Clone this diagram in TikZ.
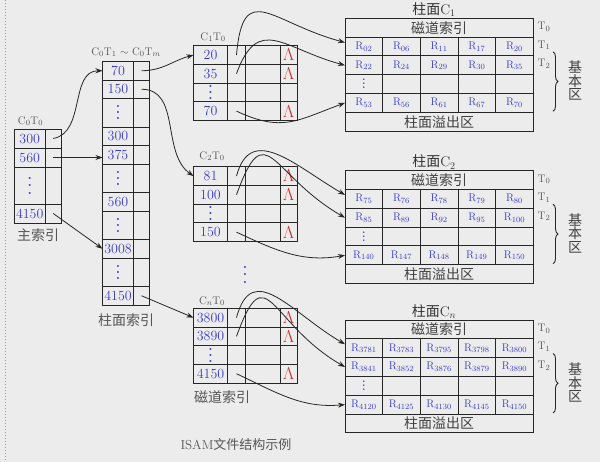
\documentclass[tikz,border=0pt]{standalone}
\usepackage{fontspec}
\usepackage{amsmath}
\usepackage{xcolor}
\usepackage{tikz}
\usetikzlibrary{arrows.meta,decorations.pathreplacing}
\newfontfamily\cjk{Noto Sans CJK SC}

\definecolor{bggray}{RGB}{236,236,236}
\definecolor{numblue}{RGB}{60,60,205}
\definecolor{lamred}{RGB}{210,35,35}
\definecolor{labgray}{RGB}{85,85,85}
\definecolor{dotgreen}{RGB}{110,180,110}

\newcommand{\vdt}[1][6]{\vbox{\bfseries\baselineskip#1pt\lineskiplimit0pt\hbox{.}\hbox{.}\hbox{.}}}

\begin{document}
\begin{tikzpicture}[x=1pt, y=-1pt,
  cell/.style={draw=black!85, line width=0.8pt, inner sep=0pt, outer sep=0pt, anchor=north west},
  num/.style={text=numblue, font=\fontsize{14}{16}\selectfont},
  rnum/.style={text=numblue, font=\fontsize{11}{13}\selectfont},
  lam/.style={text=lamred, font=\fontsize{17}{19}\selectfont},
  lab/.style={text=labgray, font=\fontsize{11}{13}\selectfont},
  zh/.style={text=labgray, font=\fontsize{14}{16}\selectfont\cjk},
  zhd/.style={text=black!75, font=\fontsize{14}{16}\selectfont\cjk},
  ttl/.style={text=black!80, font=\fontsize{14}{16}\selectfont},
  arr/.style={-{Stealth[length=7pt,width=5pt]}, line width=0.8pt, black!85}]

\fill[bggray] (0,0) rectangle (600,462);
\useasboundingbox (0,0) rectangle (600,462);
\draw[dotgreen, dotted, line width=1pt] (5,0) -- (5,462);

% main index
\node[lab] (milbl) at (30.5,121) {C$_0$T$_0$};
\node[cell, num, minimum width=30.5pt, minimum height=19pt] (m1) at (14.5,129) {300};
\node[cell, minimum width=16.5pt, minimum height=19pt] (mp1) at (45,129) {};
\node[cell, num, minimum width=30.5pt, minimum height=19pt] (m2) at (14.5,148) {560};
\node[cell, minimum width=16.5pt, minimum height=19pt] (mp2) at (45,148) {};
\node[cell, num, minimum width=30.5pt, minimum height=37pt] (m3) at (14.5,167) {\vdt[7.5]};
\node[cell, minimum width=16.5pt, minimum height=37pt] (mp3) at (45,167) {};
\node[cell, num, minimum width=30.5pt, minimum height=19pt] (m4) at (14.5,204) {4150};
\node[cell, minimum width=16.5pt, minimum height=19pt] (mp4) at (45,204) {};
\node[zh] (mizh) at (38,235) {主索引};

% cylinder index
\node[lab] (cilbl) at (126,52) {C$_0$T$_1$ $\sim$ C$_0$T$_m$};
\foreach \n/\yy/\hh/\tx in {1/61.5/18.5/70, 2/80/18.5/150, 3/98.5/28.5/\vdt, 4/127/18.5/300,
    5/145.5/18.5/375, 6/164/28.5/\vdt, 7/192.5/18.5/560, 8/211/28.5/\vdt,
    9/239.5/18.5/3008, 10/258/28.5/\vdt, 11/286.5/18.5/4150}
{
  \node[cell, num, minimum width=31pt, minimum height=\hh pt] (i\n) at (102.5,\yy) {\tx};
  \node[cell, minimum width=16pt, minimum height=\hh pt] (ip\n) at (133.5,\yy) {};
}
\node[zh] (cizh) at (126,320) {柱面索引};

% track index
\foreach \k/\ty/\va/\vb/\vd in {1/45.7/20/35/70, 2/166.7/81/100/150, 3/308.3/3800/3890/4150}
{
  \foreach \rw/\tx/\lm [count=\j from 0] in {a/\va/$\Lambda$, b/\vb/$\Lambda$, c/\vdt/{}, d/\vd/$\Lambda$}
  {
    \node[cell, num, minimum width=34pt, minimum height=18.7pt] (t\k-\rw) at (193.5,\ty+\j*18.7) {\tx};
    \node[cell, minimum width=18pt, minimum height=18.7pt] (t\k-\rw-p) at (227.5,\ty+\j*18.7) {};
    \node[cell, minimum width=34.5pt, minimum height=18.7pt] (t\k-\rw-e) at (245.5,\ty+\j*18.7) {};
    \node[cell, lam, minimum width=17.5pt, minimum height=18.7pt] (t\k-\rw-l) at (280,\ty+\j*18.7) {\lm};
  }
}
\node[lab] (t1lbl) at (213,37) {C$_1$T$_0$};
\node[lab] (t2lbl) at (212,156) {C$_2$T$_0$};
\node[lab] (t3lbl) at (212,301) {C$_n$T$_0$};
\node[num] (tdots) at (245,274.5) {\vdt[7.5]};
\node[zh] (tzh) at (222,397) {磁道索引};

% cylinders
\foreach \k/\cy/\ck/\ra/\rb/\rd in {1/18.3/1/{02,06,11,17,20}/{22,24,29,30,35}/{53,56,61,67,70},
    2/170.7/2/{75,76,78,79,80}/{85,89,92,95,100}/{140,147,148,149,150},
    3/320/n/{3781,3783,3795,3798,3800}/{3841,3852,3876,3879,3890}/{4120,4125,4130,4145,4150}}
{
  \node[ttl] (c\k-t) at (434,\cy-8.5) {{\cjk 柱面}C$_{\ck}$};
  \node[cell, zhd, minimum width=188.3pt, minimum height=18.8pt] (c\k-h) at (345,\cy) {磁道索引};
  \foreach \rv [count=\j from 0] in \ra
    \node[cell, rnum, minimum width=37.66pt, minimum height=18.8pt] (c\k-a\j) at (345+\j*37.66,\cy+18.8) {R$_{\rv}$};
  \foreach \rv [count=\j from 0] in \rb
    \node[cell, rnum, minimum width=37.66pt, minimum height=18.8pt] (c\k-b\j) at (345+\j*37.66,\cy+37.6) {R$_{\rv}$};
  \node[cell, rnum, minimum width=37.66pt, minimum height=18.8pt] (c\k-c0) at (345,\cy+56.4) {\vdt[4]};
  \foreach \j in {1,...,4}
    \node[cell, minimum width=37.66pt, minimum height=18.8pt] (c\k-c\j) at (345+\j*37.66,\cy+56.4) {};
  \foreach \rv [count=\j from 0] in \rd
    \node[cell, rnum, minimum width=37.66pt, minimum height=18.8pt] (c\k-d\j) at (345+\j*37.66,\cy+75.2) {R$_{\rv}$};
  \node[cell, zhd, minimum width=188.3pt, minimum height=18.8pt] (c\k-f) at (345,\cy+94) {柱面溢出区};
  \node[lab] (c\k-t0) at (544,\cy+8.5) {T$_0$};
  \node[lab] (c\k-t1) at (544,\cy+27) {T$_1$};
  \node[lab] (c\k-t2) at (544,\cy+45.5) {T$_2$};
  \draw[black!85, line width=0.9pt, decorate, decoration={brace, amplitude=5pt}] (553,\cy+33.5) -- (553,\cy+93);
  \node[zhd, font=\fontsize{14}{13.5}\selectfont\cjk, align=center] (c\k-z) at (575,\cy+62.5) {基\\本\\区};
}

% pointers
\draw[arr] (mp1.center) to[out=10,in=180] (i1.west);
\draw[arr] (mp2.center) -- (mp2.center -| i5.west);
\draw[arr] (mp4.center) -- (i9.west);
\draw[arr] (ip1.center) to[out=0,in=195] (t1-a.west);
\draw[arr] (ip2.center) to[out=0,in=145] (t2-a.west);
\draw[arr] (ip11.center) -- (t3-a.west);
\draw[arr] (t1-a-p.center) to[out=85,in=165,looseness=1.8] (c1-a0.168);
\draw[arr] (t1-b-p.center) to[out=70,in=165,looseness=1.5] (c1-b0.west);
\draw[arr] (t1-d-p.center) to[out=-25,in=200,looseness=1.2] (c1-d0.west);
\draw[arr] (t2-a-p.center) to[out=75,in=150,looseness=1.3] (c2-a0.168);
\draw[arr] (t2-b-p.center) to[out=70,in=150,looseness=2] (c2-b0.west);
\draw[arr] (t2-d-p.center) to[out=-25,in=190] (c2-d0.west);
\draw[arr] (t3-a-p.center) to[out=75,in=150,looseness=1.4] (c3-a0.168);
\draw[arr] (t3-b-p.center) to[out=70,in=150,looseness=2] (c3-b0.west);
\draw[arr] (t3-d-p.center) to[out=-25,in=185] (c3-d0.west);

\node[lab, font=\fontsize{13}{15}\selectfont] (capt) at (236,445) {ISAM{\cjk 文件结构示例}};
\end{tikzpicture}
\end{document}
